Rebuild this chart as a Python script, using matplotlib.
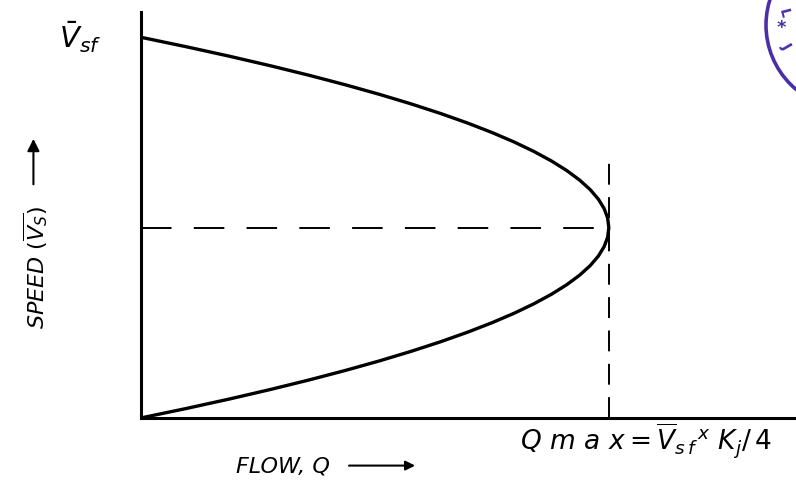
import matplotlib.pyplot as plt
from matplotlib.patches import Circle

plt.rcParams['lines.scale_dashes'] = False
plt.rcParams['mathtext.fontset'] = 'dejavusans'

# speed-flow curve: speed as a fraction of free speed Vsf, flow as a fraction of Qmax
speed = [0.0, 0.025, 0.05, 0.075, 0.10, 0.125, 0.15, 0.175, 0.20, 0.225, 0.25,
         0.275, 0.30, 0.325, 0.35, 0.375, 0.40, 0.425, 0.45, 0.475, 0.50,
         0.525, 0.55, 0.575, 0.60, 0.625, 0.65, 0.675, 0.70, 0.725, 0.75,
         0.775, 0.80, 0.825, 0.85, 0.875, 0.90, 0.925, 0.95, 0.975, 1.0]
flow = [0.0, 0.0975, 0.19, 0.2775, 0.36, 0.4375, 0.51, 0.5775, 0.64, 0.6975, 0.75,
        0.7975, 0.84, 0.8775, 0.91, 0.9375, 0.96, 0.9775, 0.99, 0.9975, 1.0,
        0.9975, 0.99, 0.9775, 0.96, 0.9375, 0.91, 0.8775, 0.84, 0.7975, 0.75,
        0.6975, 0.64, 0.5775, 0.51, 0.4375, 0.36, 0.2775, 0.19, 0.0975, 0.0]

v_crit = 0.5        # speed at maximum flow
q_max = 1.0
v_line_top = 0.69   # top of the vertical guide at Qmax

fig = plt.figure(figsize=(7.96, 4.86), dpi=100)
ax = fig.add_axes([0.177, 0.14, 0.823, 0.835])
ax.set_xlim(0, 1.40)
ax.set_ylim(0, 1.066)

ax.plot(flow, speed, color='black', lw=2.4, solid_capstyle='round',
        solid_joinstyle='round')
ax.plot([0, q_max], [v_crit, v_crit], color='black', lw=1.4, dashes=(22, 16))
ax.plot([q_max, q_max], [0, v_line_top], color='black', lw=1.4, dashes=(15, 9))

for side in ['top', 'right']:
    ax.spines[side].set_visible(False)
for side in ['left', 'bottom']:
    ax.spines[side].set_linewidth(2.2)
ax.set_xticks([])
ax.set_yticks([])

ax.text(-0.13, 1.0, r'$\bar{V}_{sf}$', fontsize=21, ha='center', va='center')
ax.text(0.81, -0.06, r'$Q\ m\ a\ x=\overline{V}_{s\,f}{}^{\,x}\ K_j/\,4$',
        fontsize=19, ha='left', va='center')

# axis captions with arrows
fig.text(0.045, 0.45, r'SPEED $(\overline{V_S})$', rotation=90, fontsize=16,
         style='italic', ha='center', va='center')
ax.annotate('', xy=(0.042, 0.72), xytext=(0.042, 0.615), xycoords='figure fraction',
            arrowprops=dict(arrowstyle='-|>', color='black', lw=1.5,
                            mutation_scale=18))
fig.text(0.355, 0.04, 'FLOW, Q', fontsize=16, style='italic', ha='center', va='center')
ax.annotate('', xy=(0.525, 0.042), xytext=(0.435, 0.042), xycoords='figure fraction',
            arrowprops=dict(arrowstyle='-|>', color='black', lw=1.5, mutation_scale=14))

# partial ink stamp in the corner (inch coordinates from the lower left)
ink = '#4b2fa8'
stamp = Circle((8.50, 4.61), 0.84, transform=fig.dpi_scale_trans, fill=False,
               edgecolor=ink, lw=2.6)
fig.add_artist(stamp)
fig.text(0.984, 0.972, 'L', color=ink, fontsize=10, rotation=-75,
         ha='center', va='center', weight='bold')
fig.text(0.982, 0.942, '*', color=ink, fontsize=13, ha='center', va='center',
         weight='bold')
fig.text(0.988, 0.905, 'J', color=ink, fontsize=10, rotation=-60,
         ha='center', va='center', weight='bold')

fig.savefig('out.png', dpi=100)
